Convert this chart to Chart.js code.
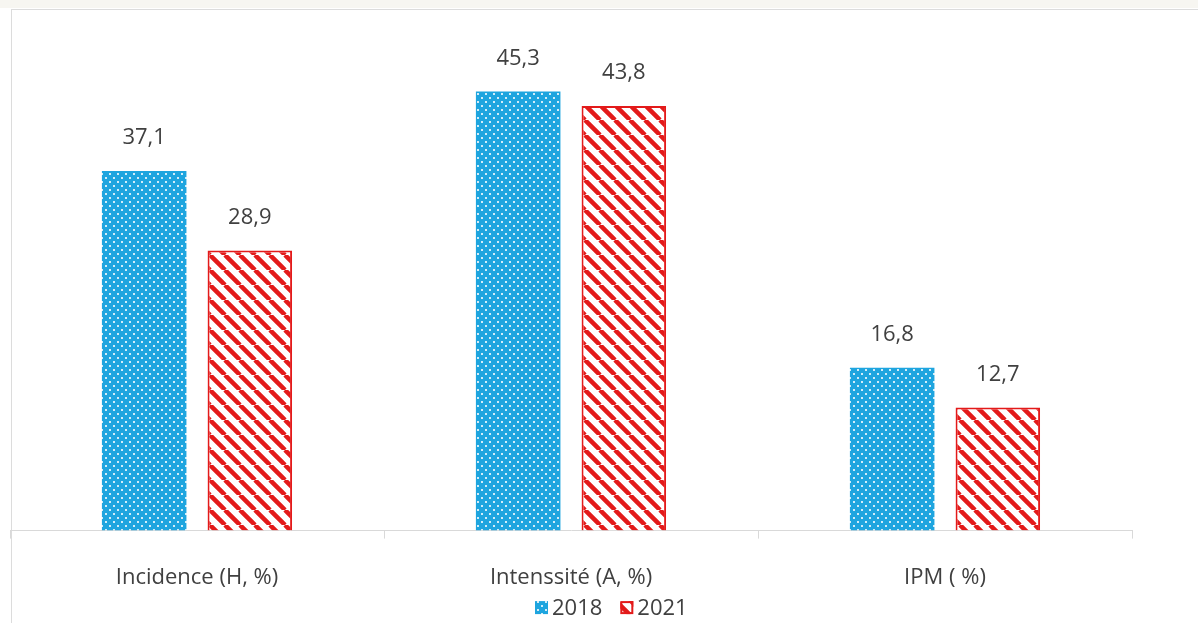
<!DOCTYPE html>
<html>
<head>
<meta charset="utf-8">
<script src="https://cdn.jsdelivr.net/npm/chart.js@4.4.1/dist/chart.umd.min.js"></script>
<style>
  html, body { margin: 0; padding: 0; background: #ffffff; }
  #wrap { position: relative; width: 1198px; height: 623px; overflow: hidden; }
  #frame { position: absolute; left: 11px; top: 9px; right: 0; bottom: 0; border-left: 1px solid #dcdcdc; border-top: 1px solid #dcdcdc; }
  #topStrip { position: absolute; left: 0; top: 0; width: 1198px; height: 8px; background: #f7f6f1; }
  #chart { position: absolute; left: 0; top: 0; }
</style>
</head>
<body>
<div id="wrap">
  <div id="topStrip"></div>
  <div id="frame"></div>
  <canvas id="chart" width="1198" height="623"></canvas>
</div>
<script>
// Data
const categories = ['Incidence (H, %)', 'Intenssité (A, %)', 'IPM ( %)'];
const seriesNames = ['2018', '2021'];
const values2018 = [37.1, 45.3, 16.8];
const values2021 = [28.9, 43.8, 12.7];

const FONT = '"Open Sans", sans-serif';
const TEXT_COLOR = '#404040';
const BLUE = '#1ea5df';
const RED = '#e31a1a';

// Pattern helpers
const makeDots = () => {
    const c = document.createElement('canvas');
    c.width = 8; c.height = 8;
    const g = c.getContext('2d');
    g.fillStyle = BLUE;
    g.fillRect(0, 0, 8, 8);
    g.fillStyle = 'rgba(255,255,255,0.8)';
    g.fillRect(1, 1, 2, 2);
    g.fillRect(5, 5, 2, 2);
    return g.createPattern(c, 'repeat');
};

const makeStripes = () => {
    const s = 15;
    const c = document.createElement('canvas');
    c.width = s; c.height = s;
    const g = c.getContext('2d');
    g.fillStyle = '#ffffff';
    g.fillRect(0, 0, s, s);
    g.strokeStyle = RED;
    g.lineWidth = 4.5;
    g.beginPath();
    [-s, 0, s].forEach(o => {
        g.moveTo(o, 0);
        g.lineTo(o + s, s);
    });
    g.stroke();
    return g.createPattern(c, 'repeat');
};

const dotFill = makeDots();
const stripeFill = makeStripes();

// Value labels above bars + legend under the axis
const extras = {
    id: 'extras',
    afterDatasetsDraw(chart) {
        const ctx = chart.ctx;
        ctx.save();
        ctx.font = '22px ' + FONT;
        ctx.fillStyle = TEXT_COLOR;
        ctx.textAlign = 'center';
        ctx.textBaseline = 'middle';
        chart.data.datasets.forEach((ds, i) => {
            chart.getDatasetMeta(i).data.forEach((bar, j) => {
                ctx.fillText(String(ds.data[j]).replace('.', ','), bar.x, bar.y - 33);
            });
        });

        // legend
        const y = chart.chartArea.bottom + 77;
        let x = 535;
        ctx.textAlign = 'left';
        chart.data.datasets.forEach((ds, i) => {
            ctx.fillStyle = ds.backgroundColor;
            ctx.fillRect(x, y - 6.5, 13, 13);
            if (i === 1) {
                ctx.strokeStyle = RED;
                ctx.lineWidth = 2;
                ctx.strokeRect(x + 1, y - 5.5, 11, 11);
            }
            x += 17;
            ctx.fillStyle = TEXT_COLOR;
            ctx.fillText(ds.label, x, y + 1);
            x += ctx.measureText(ds.label).width + 18;
        });
        ctx.restore();
    }
};

const ctx = document.getElementById('chart').getContext('2d');
new Chart(ctx, {
    type: 'bar',
    data: {
        labels: categories,
        datasets: [{
            label: seriesNames[0],
            data: values2018,
            backgroundColor: dotFill,
            borderColor: BLUE,
            borderWidth: 0
        }, {
            label: seriesNames[1],
            data: values2021,
            backgroundColor: stripeFill,
            borderColor: RED,
            borderWidth: 2
        }]
    },
    options: {
        responsive: false,
        animation: false,
        categoryPercentage: 0.565,
        barPercentage: 0.8,
        layout: { padding: { left: 10, right: 66, top: 46, bottom: 6 } },
        plugins: {
            legend: { display: false },
            tooltip: { enabled: false }
        },
        scales: {
            y: {
                display: false,
                min: 0,
                max: 50
            },
            x: {
                grid: {
                    display: true,
                    drawOnChartArea: false,
                    tickLength: 8,
                    color: '#d9d9d9'
                },
                border: { color: '#d9d9d9', width: 1 },
                ticks: {
                    color: TEXT_COLOR,
                    padding: 26,
                    font: { family: FONT, size: 22 }
                }
            }
        }
    },
    plugins: [extras]
});
</script>
</body>
</html>
